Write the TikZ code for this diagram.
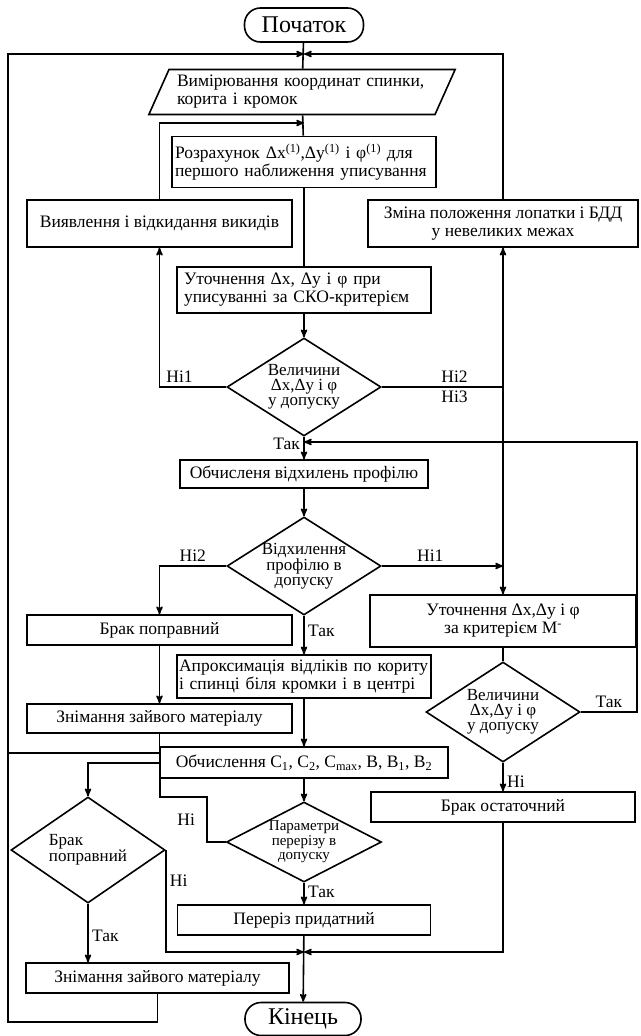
\documentclass[tikz,border=0pt]{standalone}
\usepackage{fontspec}
\setmainfont{Liberation Serif}
\usetikzlibrary{arrows,shapes}

\begin{document}
\begin{tikzpicture}[->,>=stealth',line width=1.6pt,x=1pt,y=-1pt,
                    font=\fontsize{17.5}{18}\selectfont,
                    blok/.style={rectangle, draw, inner sep=0pt, align=center},
                    rishennya/.style={diamond, draw, inner xsep=-20pt, inner ysep=-12pt,
                                      align=center, font=\fontsize{17}{15}\selectfont},
                    termin/.style={rectangle, draw, rounded corners=16pt,
                                   font=\fontsize{24}{24}\selectfont},
                    vvid/.style={trapezium, draw, trapezium left angle=64,
                                 trapezium right angle=116, trapezium stretches body=true,
                                 inner xsep=8pt, inner ysep=4pt}]

  \useasboundingbox (0,0) rectangle (640,1036);

  % main column
  \node [termin, minimum width=119pt, minimum height=34pt] (pochatok) at (304,25) {Початок};
  \node [vvid, text width=250pt, align=left, minimum width=305pt, minimum height=45pt]
        (vymir) at (302,92) {Вимірювання координат спинки,\\корита і кромок};
  \node [blok, text width=258pt, align=left, minimum width=264pt, minimum height=51pt]
        (rozrah) at (304,162) {Розрахунок Δx\textsuperscript{(1)},Δy\textsuperscript{(1)} і φ\textsuperscript{(1)} для\\першого наближення уписування};
  \node [blok, text width=240pt, align=left, minimum width=254pt, minimum height=46pt]
        (utochn) at (304,290) {Уточнення Δx, Δy і φ при\\уписуванні за СКО-критерієм};
  \node [rishennya, minimum width=154pt, minimum height=98pt] (velych) at (304,387) {Величини\\Δx,Δy і φ\\у допуску};
  \node [blok, minimum width=248pt, minimum height=28pt] (vidkh) at (304,474) {Обчисленя відхилень профілю};
  \node [rishennya, minimum width=154pt, minimum height=98pt] (vidkhd) at (304,566) {Відхилення\\профілю в\\допуску};
  \node [blok, text width=250pt, align=left, minimum width=254pt, minimum height=43pt]
        (aproks) at (304,676.5) {Апроксимація відліків по кориту\\і спинці біля кромки і в центрі};
  \node [blok, minimum width=288pt, minimum height=31pt] (obchC) at (304,762.5)
        {Обчислення C\textsubscript{1}, C\textsubscript{2}, C\textsubscript{max}, B, B\textsubscript{1}, B\textsubscript{2}};
  \node [rishennya, minimum width=155pt, minimum height=80pt, font=\fontsize{15}{14.5}\selectfont]
        (param) at (304,842) {Параметри\\перерізу в\\допуску};
  \node [blok, minimum width=253pt, minimum height=30pt] (pereriz) at (304,920) {Переріз придатний};
  \node [termin, minimum width=116pt, minimum height=33pt] (kinets) at (303,1019) {Кінець};

  % left column
  \node [blok, minimum width=265pt, minimum height=47pt] (vyyavl) at (159.5,223.5) {Виявлення і відкидання викидів};
  \node [blok, minimum width=265pt, minimum height=30pt] (brakp) at (159.5,630) {Брак поправний};
  \node [blok, minimum width=265pt, minimum height=29pt] (znim1) at (159.5,718.5) {Знімання зайвого матеріалу};
  \node [rishennya, minimum width=154pt, minimum height=106pt, align=left] (brakpd) at (88,850) {Брак\\поправний};
  \node [blok, minimum width=263pt, minimum height=30pt] (znim2) at (157.5,978) {Знімання зайвого матеріалу};

  % right column
  \node [blok, minimum width=270pt, minimum height=47pt] (zmina) at (503,223.5) {Зміна положення лопатки і БДД\\у невеликих межах};
  \node [blok, minimum width=266pt, minimum height=52pt] (utochM) at (503,621) {Уточнення Δx,Δy і φ\\за критерієм М\textsuperscript{-}};
  \node [rishennya, minimum width=154pt, minimum height=100pt] (velych2) at (503,712) {Величини\\Δx,Δy і φ\\у допуску};
  \node [blok, minimum width=264pt, minimum height=30pt] (brako) at (503,807) {Брак остаточний};

  \coordinate (j1) at (304,54);
  \coordinate (j2) at (304,123);
  \coordinate (j3) at (304,442);
  \coordinate (j4) at (304,952);
  \coordinate (lb1) at (8,753);
  \coordinate (lb2) at (8,1022);
  \coordinate (rz) at (637,442);
  \coordinate (p1) at (207,797);
  \coordinate (p2) at (160,763);

  \draw [-] (pochatok) -- (vymir);
  \draw [-] (vymir) -- (rozrah);
  \draw [-] (rozrah) -- (utochn);
  \path (utochn) edge (velych);
  \path (velych) edge node[left, pos=0.3] {Так} (vidkh);
  \path (vidkh) edge (vidkhd);
  \path (vidkhd) edge node[right, pos=0.4] {Так} (aproks);
  \path (aproks) edge (obchC);
  \path (obchC) edge (param);
  \path (param) edge node[right, pos=0.4] {Так} (pereriz);
  \path (pereriz) edge (kinets);

  \draw (zmina.north) |- (j1);
  \draw (znim1.south) |- (lb1) |- (j1);
  \draw [-] (znim2.south) |- (lb2) -- (lb1);
  \draw (vyyavl.north) |- (j2);
  \draw (velych.west) -| node[above, pos=0.35] {Ні1} (vyyavl.south);
  \draw (velych.east) -| node[above, pos=0.3] {Ні2} (zmina.south);
  \draw (velych.east) -| node[below, pos=0.3] {Ні3} (utochM.north);

  \draw (vidkhd.west) -| node[above, pos=0.25] {Ні2} (brakp.north);
  \draw (vidkhd.east) -- node[above, pos=0.4] {Ні1} (vidkhd.east -| utochM.north);
  \path (brakp) edge (znim1);

  \draw [-] (utochM) -- (velych2);
  \draw (velych2.east) -| node[above, pos=0.25] {Так} (rz) -- (j3);
  \path (velych2) edge node[right, pos=0.65] {Ні} (brako);
  \draw (brako.south) |- (j4);

  \draw (param.west) -| node[left=8pt, pos=0.75] {Ні} (p1) -| (p2) -| (brakpd.north);
  \draw (brakpd.east) |- node[right, pos=0.15] {Ні} (j4);
  \draw (brakpd.south) -- node[right, pos=0.55] {Так} (brakpd.south |- znim2.north);
\end{tikzpicture}
\end{document}
